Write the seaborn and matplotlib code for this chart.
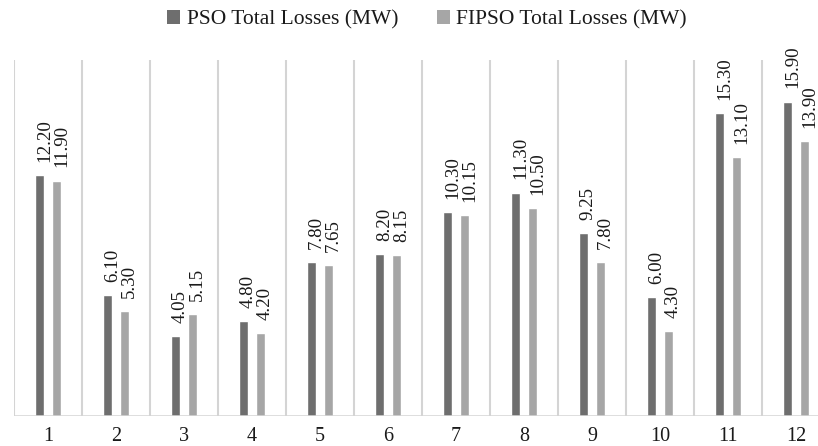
import matplotlib
matplotlib.use("Agg")
import matplotlib.pyplot as plt
import seaborn as sns
import pandas as pd
from matplotlib.patches import Patch

# Total losses per case
cases = ["1", "2", "3", "4", "5", "6", "7", "8", "9", "10", "11", "12"]
pso_losses = [12.20, 6.10, 4.05, 4.80, 7.80, 8.20, 10.30, 11.30, 9.25, 6.00, 15.30, 15.90]
fipso_losses = [11.90, 5.30, 5.15, 4.20, 7.65, 8.15, 10.15, 10.50, 7.80, 4.30, 13.10, 13.90]
series_names = ["PSO Total Losses (MW)", "FIPSO Total Losses (MW)"]
series_colors = ["#6e6e6e", "#a6a6a6"]

df = pd.DataFrame({
    "case": cases * 2,
    "loss": pso_losses + fipso_losses,
    "method": [series_names[0]] * len(cases) + [series_names[1]] * len(cases),
})

sns.set_theme(style="white")
plt.rcParams["font.family"] = ["Liberation Serif", "DejaVu Serif"]

fig = plt.figure(figsize=(8.18, 4.46), dpi=100)
ax = fig.add_axes([14 / 818, 30 / 446, 816 / 818, 356 / 446])

sns.barplot(
    data=df, x="case", y="loss", hue="method", order=cases,
    hue_order=series_names, palette=series_colors,
    width=0.5, gap=0.46, saturation=1, errorbar=None,
    legend=False, ax=ax, zorder=3,
)

ax.set_xlim(-0.5, len(cases) - 0.5)
ax.set_ylim(0, 18)

# category separators and baseline
grid_color = "#d4d4d4"
for i in range(len(cases) + 1):
    ax.axvline(i - 0.5, color=grid_color, lw=1.5, zorder=1)
ax.axhline(0, color=grid_color, lw=1.8, zorder=4)

for s in ax.spines.values():
    s.set_visible(False)
ax.set_yticks([])
ax.set_xlabel("")
ax.set_ylabel("")
ax.tick_params(axis="x", length=0, pad=8, labelsize=14.5, colors="#1a1a1a")

# rotated value labels above each bar
for container in ax.containers:
    for bar, val in zip(container, container.datavalues):
        ax.annotate(
            f"{val:.2f}",
            (bar.get_x() + bar.get_width() / 2, bar.get_height()),
            xytext=(3.5, 9.5), textcoords="offset points",
            rotation=90, ha="center", va="bottom",
            fontsize=13.6, color="#1a1a1a", zorder=5,
        )

handles = [Patch(facecolor=c, edgecolor="none") for c in series_colors]
fig.legend(
    handles, series_names, loc="center", bbox_to_anchor=(427 / 818, 1 - 20 / 446),
    ncol=2, frameon=False, fontsize=15.5, handlelength=0.6, handleheight=0.6,
    handletextpad=0.3, columnspacing=1.8, labelcolor="#1a1a1a",
)

fig.savefig("out.png", dpi=100)
